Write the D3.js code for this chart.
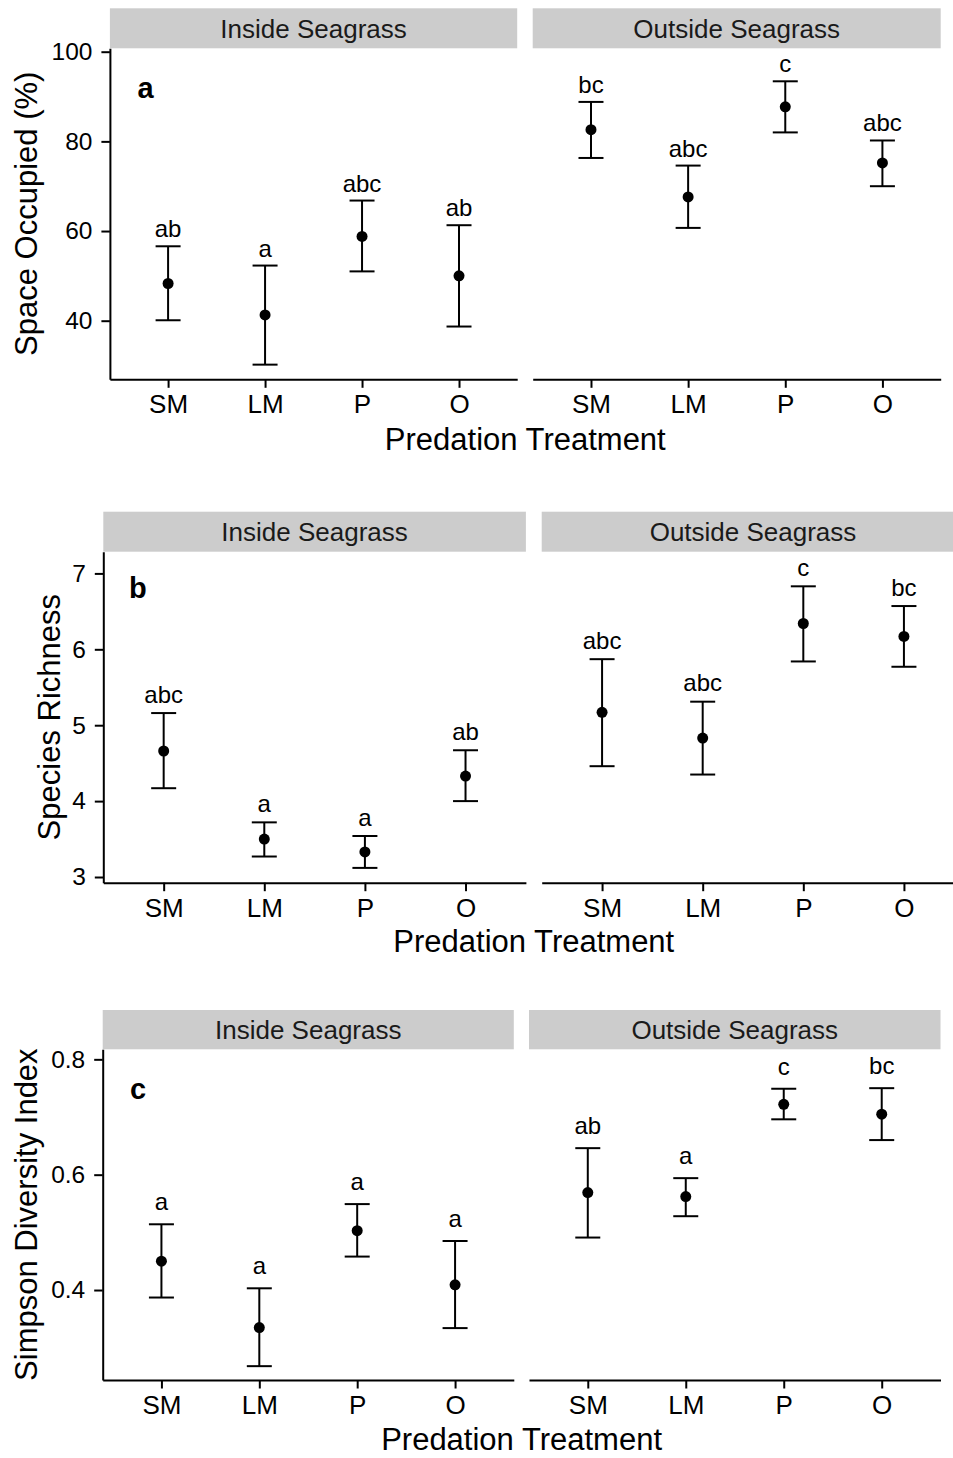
<!DOCTYPE html>
<html>
<head>
<meta charset="utf-8">
<script src="https://cdn.jsdelivr.net/npm/d3@7"></script>
<style>
  html, body { margin: 0; padding: 0; background: #ffffff; }
  svg { display: block; font-family: "Liberation Sans", Arial, Helvetica, sans-serif; }
</style>
</head>
<body>
<svg id="chart" width="953" height="1458"></svg>
<script>
// ---------------- DATA ----------------
const categories = ["SM", "LM", "P", "O"];
const facets = ["Inside Seagrass", "Outside Seagrass"];
const xTitle = "Predation Treatment";

// (a) Space occupied (%)
const spaceTitle = "Space Occupied (%)";
const spaceTicks = [40, 60, 80, 100];
const spaceDomain = [26.93, 100.76];
const spaceInsideMean   = [48.3, 41.3, 58.8, 50.0];
const spaceInsideLower  = [40.1, 30.2, 51.0, 38.7];
const spaceInsideUpper  = [56.6, 52.3, 66.8, 61.3];
const spaceInsideLetters = ["ab", "a", "abc", "ab"];
const spaceOutsideMean  = [82.6, 67.6, 87.7, 75.2];
const spaceOutsideLower = [76.3, 60.7, 82.0, 70.0];
const spaceOutsideUpper = [88.8, 74.6, 93.4, 80.2];
const spaceOutsideLetters = ["bc", "abc", "c", "abc"];

// (b) Species richness
const richTitle = "Species Richness";
const richTicks = [3, 4, 5, 6, 7];
const richDomain = [2.925, 7.286];
const richInsideMean   = [4.66, 3.50, 3.33, 4.33];
const richInsideLower  = [4.17, 3.27, 3.12, 4.00];
const richInsideUpper  = [5.16, 3.72, 3.54, 4.67];
const richInsideLetters = ["abc", "a", "a", "ab"];
const richOutsideMean  = [5.17, 4.83, 6.34, 6.17];
const richOutsideLower = [4.46, 4.35, 5.84, 5.77];
const richOutsideUpper = [5.87, 5.31, 6.83, 6.57];
const richOutsideLetters = ["abc", "abc", "c", "bc"];

// (c) Simpson diversity index
const simpTitle = "Simpson Diversity Index";
const simpTicks = [0.4, 0.6, 0.8];
const simpDomain = [0.244, 0.8174];
const simpInsideMean   = [0.450, 0.335, 0.503, 0.409];
const simpInsideLower  = [0.387, 0.268, 0.458, 0.334];
const simpInsideUpper  = [0.514, 0.403, 0.549, 0.485];
const simpInsideLetters = ["a", "a", "a", "a"];
const simpOutsideMean  = [0.569, 0.562, 0.722, 0.705];
const simpOutsideLower = [0.491, 0.528, 0.696, 0.660];
const simpOutsideUpper = [0.646, 0.594, 0.749, 0.750];
const simpOutsideLetters = ["ab", "a", "c", "bc"];

const panelTags = ["a", "b", "c"];

// ---------------- LAYOUT ----------------
const rows = [
  { tag: panelTags[0], yTitle: spaceTitle, ticks: spaceTicks, domain: spaceDomain, fmt: d3.format("d"),
    series: [
      { mean: spaceInsideMean, lower: spaceInsideLower, upper: spaceInsideUpper, letters: spaceInsideLetters },
      { mean: spaceOutsideMean, lower: spaceOutsideLower, upper: spaceOutsideUpper, letters: spaceOutsideLetters }
    ],
    stripTop: 8.3, top: 48.3, bottom: 379.3, xs: [[109.9, 517.2], [532.7, 940.7]],
    yTitleX: 37.2, tagX: 137.5, tagY: 98.3, xTitleY: 450, labOff: 9 },
  { tag: panelTags[1], yTitle: richTitle, ticks: richTicks, domain: richDomain, fmt: d3.format("d"),
    series: [
      { mean: richInsideMean, lower: richInsideLower, upper: richInsideUpper, letters: richInsideLetters },
      { mean: richOutsideMean, lower: richOutsideLower, upper: richOutsideUpper, letters: richOutsideLetters }
    ],
    stripTop: 511.7, top: 551.7, bottom: 882.7, xs: [[103.3, 525.9], [541.7, 964.3]],
    yTitleX: 60.3, tagX: 129, tagY: 598.3, xTitleY: 951.7, labOff: 10.5 },
  { tag: panelTags[2], yTitle: simpTitle, ticks: simpTicks, domain: simpDomain, fmt: d3.format(".1f"),
    series: [
      { mean: simpInsideMean, lower: simpInsideLower, upper: simpInsideUpper, letters: simpInsideLetters },
      { mean: simpOutsideMean, lower: simpOutsideLower, upper: simpOutsideUpper, letters: simpOutsideLetters }
    ],
    stripTop: 1010, top: 1049.3, bottom: 1380, xs: [[102.7, 513.8], [529, 940.5]],
    yTitleX: 37.2, tagX: 130, tagY: 1099.3, xTitleY: 1450, labOff: 14 }
];

const svg = d3.select("#chart");
const TICK = 8.5, LW = 2, CAP = 12.5, R = 5.5;
const xTickFont = 26, yTickFont = 24.5, letterFont = 24, stripFont = 26, titleFont = 31, tagFont = 29;
const FF = "Liberation Sans, Arial, Helvetica, sans-serif";

rows.forEach(row => {
  const g = svg.append("g");
  const y = d3.scaleLinear().domain(row.domain).range([row.bottom, row.top]);

  row.series.forEach((s, fi) => {
    const [x0, x1] = row.xs[fi];
    const x = d3.scalePoint().domain(categories).range([x0, x1]).padding(0.6);
    const pg = g.append("g");

    // strip
    pg.append("rect").attr("x", x0).attr("y", row.stripTop)
      .attr("width", x1 - x0).attr("height", row.top - row.stripTop)
      .attr("fill", "#cccccc");
    pg.append("text").attr("x", (x0 + x1) / 2)
      .attr("y", (row.stripTop + row.top) / 2 + stripFont * 0.355)
      .attr("text-anchor", "middle").attr("font-size", stripFont).attr("fill", "#1a1a1a")
      .text(facets[fi]);

    // x axis
    const xa = pg.append("g").attr("transform", `translate(0,${row.bottom})`)
      .call(d3.axisBottom(x).tickSize(TICK).tickSizeOuter(0).tickPadding(7));
    xa.select(".domain").attr("stroke", "#000").attr("stroke-width", LW);
    xa.selectAll(".tick line").attr("stroke", "#000").attr("stroke-width", LW);
    xa.selectAll(".tick text").attr("font-size", xTickFont).attr("fill", "#000")
      .attr("font-family", FF);

    // y axis only on left facet
    if (fi === 0) {
      const ya = pg.append("g").attr("transform", `translate(${x0},0)`)
        .call(d3.axisLeft(y).tickValues(row.ticks).tickFormat(row.fmt)
          .tickSize(TICK).tickSizeOuter(0).tickPadding(9));
      ya.select(".domain").attr("stroke", "#000").attr("stroke-width", LW);
      ya.selectAll(".tick line").attr("stroke", "#000").attr("stroke-width", LW);
      ya.selectAll(".tick text").attr("font-size", yTickFont).attr("fill", "#000")
        .attr("font-family", FF);

      // panel tag
      pg.append("text").attr("x", row.tagX).attr("y", row.tagY)
        .attr("font-size", tagFont).attr("font-weight", "bold").attr("fill", "#000")
        .text(row.tag);
    }

    // data
    const data = categories.map((c, i) => ({
      cat: c, mean: s.mean[i], lower: s.lower[i], upper: s.upper[i], letter: s.letters[i]
    }));
    const mk = pg.selectAll("g.mark").data(data).join("g").attr("class", "mark");
    mk.append("line")
      .attr("x1", d => x(d.cat)).attr("x2", d => x(d.cat))
      .attr("y1", d => y(d.lower)).attr("y2", d => y(d.upper))
      .attr("stroke", "#000").attr("stroke-width", LW);
    mk.append("line")
      .attr("x1", d => x(d.cat) - CAP).attr("x2", d => x(d.cat) + CAP)
      .attr("y1", d => y(d.upper)).attr("y2", d => y(d.upper))
      .attr("stroke", "#000").attr("stroke-width", LW);
    mk.append("line")
      .attr("x1", d => x(d.cat) - CAP).attr("x2", d => x(d.cat) + CAP)
      .attr("y1", d => y(d.lower)).attr("y2", d => y(d.lower))
      .attr("stroke", "#000").attr("stroke-width", LW);
    mk.append("circle")
      .attr("cx", d => x(d.cat)).attr("cy", d => y(d.mean)).attr("r", R)
      .attr("fill", "#000");
    mk.append("text")
      .attr("x", d => x(d.cat)).attr("y", d => y(d.upper) - row.labOff)
      .attr("text-anchor", "middle").attr("font-size", letterFont).attr("fill", "#000")
      .text(d => d.letter);
  });

  // y title
  const yc = (row.top + row.bottom) / 2;
  g.append("text")
    .attr("transform", `translate(${row.yTitleX},${yc}) rotate(-90)`)
    .attr("text-anchor", "middle").attr("font-size", titleFont).attr("fill", "#000")
    .text(row.yTitle);

  // x title
  const xl = row.xs[0][0], xr = row.xs[1][1];
  g.append("text")
    .attr("x", (xl + xr) / 2).attr("y", row.xTitleY)
    .attr("text-anchor", "middle").attr("font-size", titleFont).attr("fill", "#000")
    .text(xTitle);
});
</script>
</body>
</html>
